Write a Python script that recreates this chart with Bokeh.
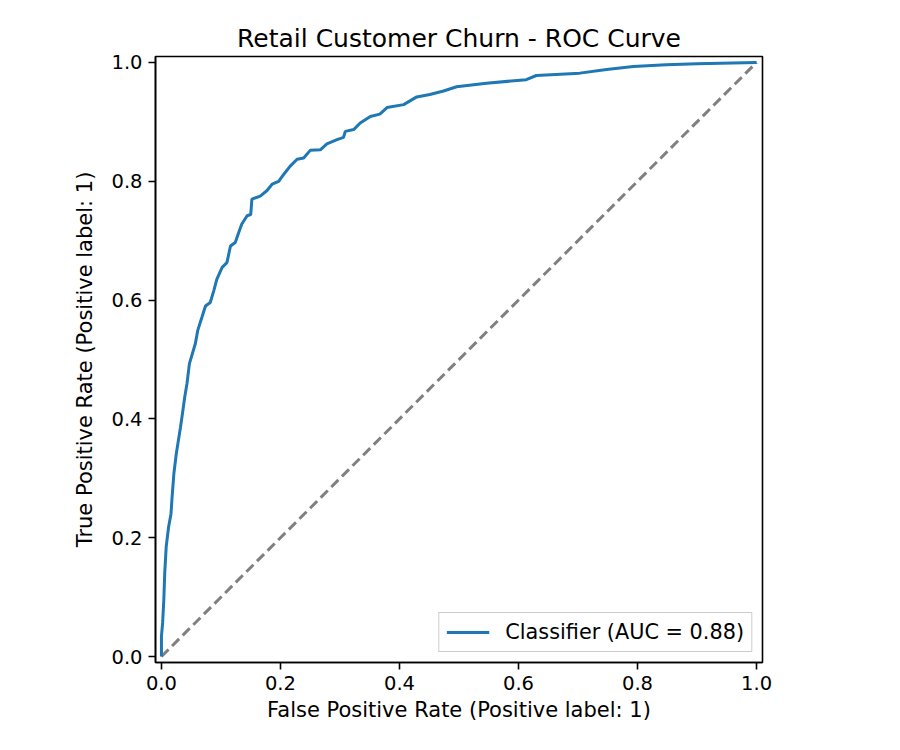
from bokeh.plotting import figure
from bokeh.models import Range1d, FixedTicker, Legend, LegendItem
from bokeh.embed import file_html
from bokeh.resources import INLINE

# ROC curve points
fpr = [0.0, 0.0, 0.002, 0.004, 0.0055, 0.008, 0.012, 0.016, 0.018, 0.021, 0.025,
       0.032, 0.036, 0.039, 0.043, 0.047, 0.052, 0.057, 0.061, 0.068, 0.074, 0.082,
       0.088, 0.093, 0.102, 0.110, 0.116, 0.124, 0.130, 0.135, 0.144, 0.150, 0.152,
       0.166, 0.177, 0.186, 0.197, 0.205, 0.216, 0.228, 0.239, 0.250, 0.267, 0.278,
       0.295, 0.306, 0.309, 0.323, 0.334, 0.351, 0.367, 0.379, 0.407, 0.429, 0.451,
       0.474, 0.496, 0.546, 0.613, 0.630, 0.703, 0.748, 0.793, 0.848, 0.900, 1.0]
tpr = [0.0, 0.034, 0.057, 0.096, 0.140, 0.185, 0.218, 0.240, 0.270, 0.309, 0.342,
       0.386, 0.414, 0.436, 0.460, 0.493, 0.510, 0.527, 0.549, 0.571, 0.590, 0.596,
       0.616, 0.635, 0.655, 0.663, 0.691, 0.697, 0.714, 0.728, 0.742, 0.744, 0.770,
       0.775, 0.784, 0.795, 0.800, 0.811, 0.825, 0.837, 0.839, 0.852, 0.853, 0.863,
       0.870, 0.874, 0.884, 0.887, 0.898, 0.909, 0.913, 0.924, 0.929, 0.942, 0.946,
       0.952, 0.959, 0.965, 0.971, 0.978, 0.982, 0.988, 0.993, 0.996, 0.998, 1.0]
chance_x = [0.0, 1.0]
chance_y = [0.0, 1.0]
ticks = [0.0, 0.2, 0.4, 0.6, 0.8, 1.0]
tick_labels = {0.0: "0.0", 0.2: "0.2", 0.4: "0.4", 0.6: "0.6", 0.8: "0.8", 1.0: "1.0"}
auc_label = "Classifier (AUC = 0.88)"

FONT = "DejaVu Sans"

p = figure(width=900, height=750, output_backend="svg", toolbar_location=None,
           x_range=Range1d(-0.01, 1.01), y_range=Range1d(-0.01, 1.01),
           title="Retail Customer Churn - ROC Curve")
p.min_border_left = 155
p.min_border_right = 138
p.min_border_top = 56
p.min_border_bottom = 88

p.title.align = "center"
p.title.text_font = FONT
p.title.text_font_size = "25px"
p.title.text_font_style = "normal"
p.title.text_color = "black"
p.title.standoff = 8

p.grid.visible = False
p.outline_line_color = "black"
p.outline_line_width = 1.6
p.background_fill_color = "white"
p.border_fill_color = "white"

for ax in (p.xaxis[0], p.yaxis[0]):
    ax.ticker = FixedTicker(ticks=ticks)
    ax.major_label_overrides = tick_labels
    ax.minor_tick_line_color = None
    ax.major_tick_out = 7
    ax.major_tick_in = 0
    ax.major_tick_line_color = "black"
    ax.major_tick_line_width = 1.6
    ax.axis_line_color = "black"
    ax.axis_line_width = 1.6
    ax.major_label_text_font = FONT
    ax.major_label_text_font_size = "19.5px"
    ax.major_label_text_color = "black"
    ax.axis_label_text_font = FONT
    ax.axis_label_text_font_size = "21px"
    ax.axis_label_text_font_style = "normal"
    ax.axis_label_text_color = "black"
    ax.major_label_standoff = 6

p.xaxis[0].axis_label = "False Positive Rate (Positive label: 1)"
p.yaxis[0].axis_label = "True Positive Rate (Positive label: 1)"
p.xaxis[0].axis_label_standoff = 5
p.yaxis[0].axis_label_standoff = 11

p.line(chance_x, chance_y, line_color="#808080", line_width=3, line_dash="10 5")
roc = p.line(fpr, tpr, line_color="#1f77b4", line_width=3)

legend = Legend(items=[LegendItem(label=auc_label, renderers=[roc])],
                location="bottom_right")
legend.label_text_font = FONT
legend.label_text_font_size = "20.8px"
legend.label_text_color = "black"
legend.border_line_color = "#cccccc"
legend.border_line_width = 1.5
legend.border_line_alpha = 1
legend.background_fill_alpha = 0.8
legend.glyph_width = 43
legend.glyph_height = 22
legend.padding = 7
legend.spacing = 0
legend.margin = 10
legend.label_standoff = 16
legend.label_height = 22
p.add_layout(legend, "center")

open("out.html", "w").write(file_html(p, INLINE))
